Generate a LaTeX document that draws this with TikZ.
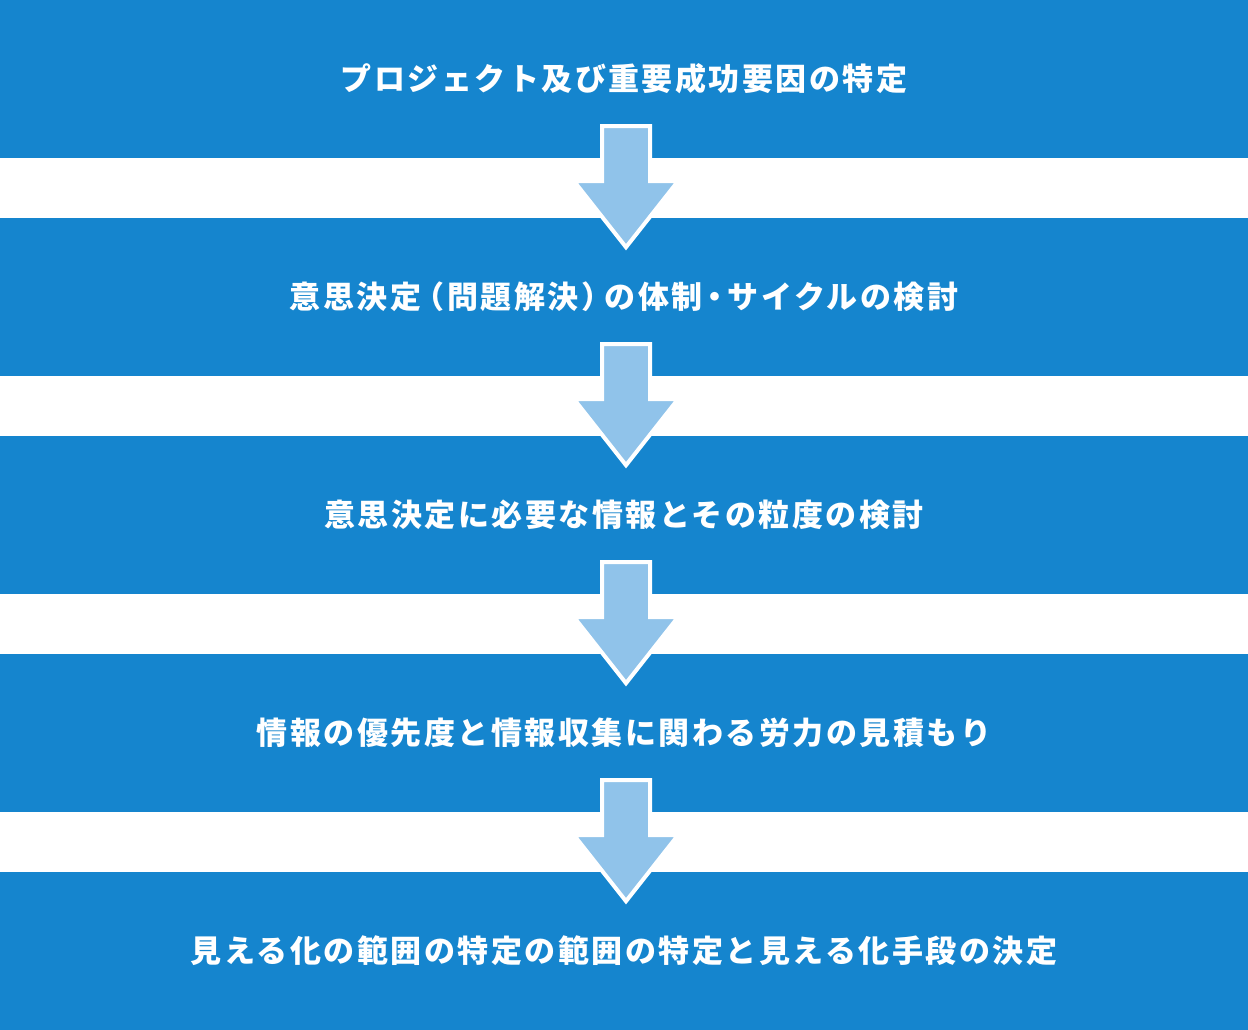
\documentclass[tikz,border=0pt]{standalone}
\usepackage{fontspec}
\usetikzlibrary{calc}
\newfontfamily\jpfont{Noto Sans CJK JP}[LetterSpace=8,RawFeature=+halt]
\definecolor{bandblue}{HTML}{1585CE}
\definecolor{arrowblue}{HTML}{90C3EA}
\begin{document}
\begin{tikzpicture}[x=1pt,y=-1pt,
  band/.style={fill=bandblue,minimum width=1248pt,minimum height=158pt,inner sep=0pt,
    text=white,font=\jpfont\bfseries\fontsize{31}{31}\selectfont},
  flowarrow/.style={fill=arrowblue,draw=white,line width=4pt,line join=miter}]
  \useasboundingbox (0,0) rectangle (1248,1030);
  \foreach \t [count=\i from 0] in {プロジェクト及び重要成功要因の特定,
      意思決定\kern8pt（問題解決）\kern8pt の体制\kern5pt・\kern5pt サイクルの検討,
      意思決定に必要な情報とその粒度の検討,
      情報の優先度と情報収集に関わる労力の見積もり,
      見える化の範囲の特定の範囲の特定と見える化手段の決定} {
    \node[band] (b\i) at (624,79+218*\i) {\t};
  }
  \foreach \i in {0,...,3} {
    \draw[flowarrow] ($(b\i.south)+(-22,-32)$) -- ++(48,0) -- ++(0,55) -- ++(28,0)
      -- ($(b\i.south)+(2,89)$) -- ($(b\i.south)+(-50,23)$) -- ++(28,0) -- cycle;
  }
\end{tikzpicture}
\end{document}
